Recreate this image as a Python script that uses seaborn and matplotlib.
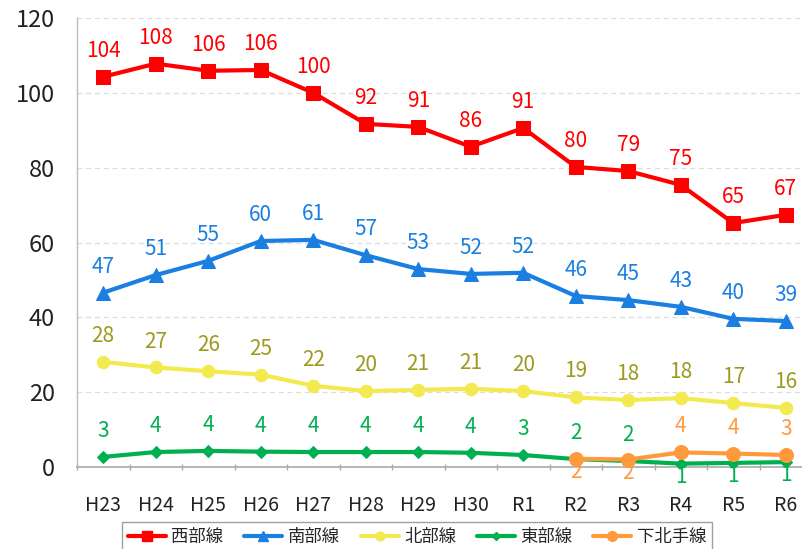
import matplotlib
matplotlib.use("Agg")
import matplotlib.pyplot as plt
import seaborn as sns
import numpy as np
import pandas as pd
from matplotlib.lines import Line2D

years = ["H23", "H24", "H25", "H26", "H27", "H28", "H29", "H30", "R1", "R2", "R3", "R4", "R5", "R6"]
seibu = [104.3, 107.8, 105.9, 106.1, 100.0, 91.7, 90.9, 85.6, 90.6, 80.2, 79.1, 75.4, 65.2, 67.4]
nanbu = [46.6, 51.3, 55.1, 60.4, 60.7, 56.6, 52.9, 51.6, 51.9, 45.7, 44.6, 42.8, 39.6, 39.0]
hokubu = [28.1, 26.6, 25.6, 24.7, 21.7, 20.3, 20.6, 20.9, 20.3, 18.6, 17.9, 18.4, 17.1, 15.8]
tobu = [2.7, 4.0, 4.3, 4.1, 4.0, 4.0, 4.0, 3.8, 3.2, 2.1, 1.6, 0.9, 1.1, 1.3]
shimo_years = ["R2", "R3", "R4", "R5", "R6"]
shimo = [2.2, 2.0, 3.9, 3.6, 3.2]

names = ["西部線", "南部線", "北部線", "東部線", "下北手線"]
colors = ["#ff0000", "#1a7fe0", "#f2ea50", "#00b050", "#ff9a3c"]
text_colors = ["#ff0000", "#1a7fe0", "#9c9a1e", "#00b050", "#ff9a3c"]
markers = ["s", "^", "o", "D", "o"]
msizes = [10, 10, 9, 6, 10]

sns.set_theme(style="white")
plt.rcParams['font.family'] = ['Noto Sans CJK JP', 'DejaVu Sans']

fig = plt.figure(figsize=(8.02, 5.49), dpi=100)
ax = fig.add_axes([77/802, 82/549, 735/802, 449/549])

xpos = {y: i for i, y in enumerate(years)}
series = [
    (years, seibu), (years, nanbu), (years, hokubu), (years, tobu), (shimo_years, shimo)
]

for k, (xs, vals) in enumerate(series):
    xi = [xpos[v] for v in xs]
    sns.lineplot(x=xi, y=vals, ax=ax, color=colors[k], marker=markers[k],
                 markersize=msizes[k], markeredgecolor=colors[k], linewidth=3,
                 zorder=3 + (1 if k == 4 else 0), legend=False)
    for j, (x, v) in enumerate(zip(xi, vals)):
        lab = str(int(round(v)))
        below = (k == 4 and xs[j] in ("R2", "R3")) or (k == 3 and xs[j] in ("R4", "R5", "R6"))
        if below:
            ax.text(x, v - 0.6, lab, ha="center", va="top", color=text_colors[k],
                    fontsize=15, clip_on=False, zorder=6)
        else:
            ax.text(x, v + 4.0, lab, ha="center", va="bottom", color=text_colors[k],
                    fontsize=15, zorder=6)

ax.set_xlim(-0.5, 13.5)
ax.set_ylim(0, 120)
ax.set_yticks(range(0, 121, 20))
ax.set_xticks(range(len(years)))
ax.set_xticklabels(years)
ax.tick_params(axis="y", labelsize=17, length=0, pad=16, colors="#222222")
ax.tick_params(axis="x", labelsize=14, length=0, pad=20, colors="#222222")
ax.set_xticks(np.arange(-0.5, 13.6, 1), minor=True)
ax.tick_params(axis="x", which="minor", length=5, direction="inout", color="#aaaaaa", bottom=True)
for y in range(20, 121, 20):
    ax.axhline(y, color="#dddddd", linestyle=(0, (4, 3)), linewidth=0.9, zorder=0)
for s in ["top", "right"]:
    ax.spines[s].set_visible(False)
ax.spines["left"].set_color("#bbbbbb")
ax.spines["bottom"].set_color("#aaaaaa")
ax.spines["left"].set_linewidth(1.0)
ax.spines["bottom"].set_linewidth(1.2)
ax.set_xlabel("")
ax.set_ylabel("")

handles = [Line2D([0], [0], color=colors[k], marker=markers[k], markersize=msizes[k] * 0.7,
                  linewidth=3) for k in range(5)]
leg = fig.legend(handles, names, loc="center", bbox_to_anchor=(417/802, 12/549), ncol=5,
                 fontsize=12.5, frameon=True, fancybox=False, handlelength=2.2,
                 columnspacing=1.2, handletextpad=0.3, borderpad=0.35)
leg.get_frame().set_edgecolor("#888888")
leg.get_frame().set_linewidth(1.0)

fig.savefig("out.png", dpi=100)
